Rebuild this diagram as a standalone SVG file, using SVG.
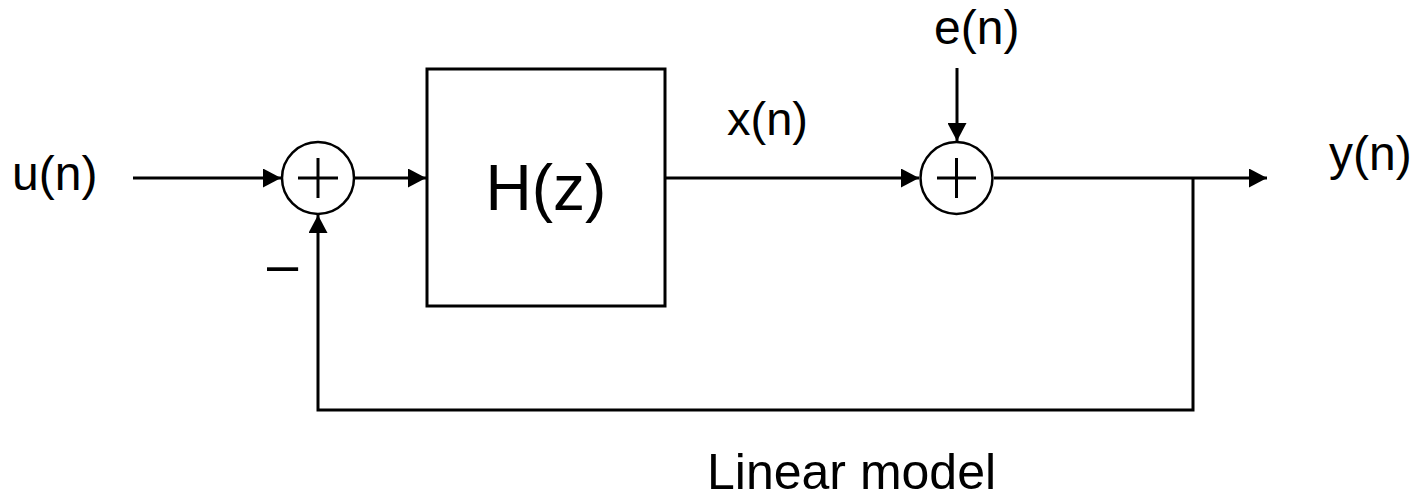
<svg xmlns="http://www.w3.org/2000/svg" width="1416" height="498" viewBox="0 0 1416 498">
<style>
.ln{fill:none;stroke:#000;stroke-width:3}
.nd{fill:#fff;stroke:#000;stroke-width:3}
.sum{fill:#fff;stroke:#000;stroke-width:2.5}
.lbl{font-family:"Liberation Sans",Arial,sans-serif;fill:#000}
</style>
<defs>
<marker id="ah" markerUnits="userSpaceOnUse" markerWidth="18" markerHeight="19" refX="18" refY="9.5" orient="auto" viewBox="0 0 18 19">
<path d="M0,0 L18,9.5 L0,19 z" fill="#000"/>
</marker>
</defs>
<rect width="1416" height="498" fill="#fff"/>
<g id="connectors">
<path class="ln" d="M133,178 L281,178" marker-end="url(#ah)"/>
<path class="ln" d="M355,178 L426,178" marker-end="url(#ah)"/>
<path class="ln" d="M665,178 L919,178" marker-end="url(#ah)"/>
<path class="ln" d="M957,68 L957,141" marker-end="url(#ah)"/>
<path class="ln" d="M994,178 L1267,178" marker-end="url(#ah)"/>
<path class="ln" d="M1193,178 L1193,410 L318,410 L318,215" marker-end="url(#ah)"/>
</g>
<g id="input-label"><text class="lbl" x="12" y="190" font-size="48">u(n)</text></g>
<g id="sum1">
<circle class="sum" cx="318" cy="178" r="36"/>
<path class="ln" d="M298,178 L338,178 M318,158 L318,198"/>
</g>
<g id="minus"><text class="lbl" x="267" y="283" font-size="56">–</text></g>
<g id="H">
<rect class="nd" x="427" y="69" width="238" height="237"/>
<text class="lbl" x="546" y="210" font-size="64" text-anchor="middle">H(z)</text>
</g>
<g id="x-label"><text class="lbl" x="727" y="135" font-size="47">x(n)</text></g>
<g id="e-label"><text class="lbl" x="934" y="44" font-size="48">e(n)</text></g>
<g id="sum2">
<circle class="sum" cx="956.5" cy="178" r="36"/>
<path class="ln" d="M937,178 L976,178 M956.5,158 L956.5,198"/>
</g>
<g id="y-label"><text class="lbl" x="1329" y="170" font-size="48">y(n)</text></g>
<g id="caption"><text class="lbl" x="707" y="489" font-size="50">Linear model</text></g>
</svg>
